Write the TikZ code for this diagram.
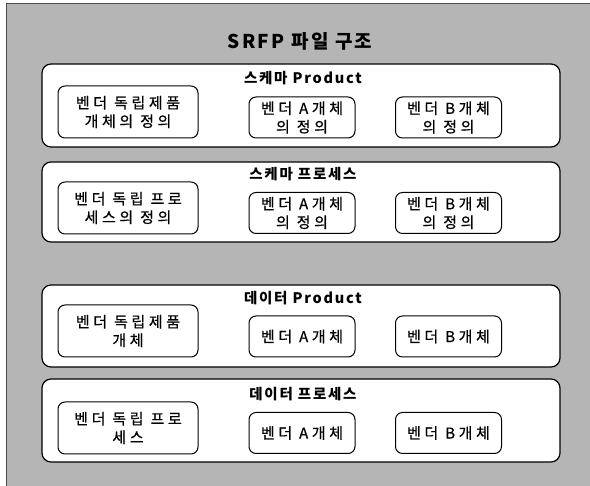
\documentclass[tikz,border=0pt]{standalone}
\usepackage{fontspec}
\setmainfont{Noto Sans CJK KR}
\begin{document}
\begin{tikzpicture}[x=1pt,y=-1pt,
  panel/.style={draw, line width=1.2pt, fill=white, rounded corners=9pt, inner sep=0pt, minimum width=518pt},
  item/.style={draw, line width=1pt, fill=white, rounded corners=7pt, align=center, inner sep=0pt,
    font=\fontsize{15}{18.5}\selectfont\addfontfeatures{LetterSpace=24,FakeBold=0.6}},
  wide/.style={item, minimum width=140pt, minimum height=52pt},
  narrow/.style={item, minimum width=106pt, minimum height=41pt},
  head/.style={font=\fontsize{14.5}{16}\selectfont\bfseries\addfontfeatures{LetterSpace=12}, inner sep=0pt},
  ttl/.style={font=\fontsize{19}{21}\selectfont\bfseries\addfontfeatures{LetterSpace=12}, inner sep=0pt}]
\useasboundingbox (0,0) rectangle (590,486);
\fill[white] (0,0) rectangle (590,486);
\fill[gray!58] (6,3) rectangle (590,486);
\draw[line width=0.8pt, black!70] (6,486) -- (6,3) -- (590,3);
\node[ttl] (title) at (300,41) {SRFP 파일 구조};
% panel 1
\node[panel, minimum height=83pt] (p1) at (301,105.5) {};
\node[head] (h1) at (303,78) {스케마 Product};
\node[wide] (a1) at (128,112) {벤더 독립제품\\개체의 정의};
\node[narrow] (b1) at (302,117.5) {벤더 A개체\\의 정의};
\node[narrow] (c1) at (448.5,117.5) {벤더 B개체\\의 정의};
% panel 2
\node[panel, minimum height=80pt] (p2) at (301,202) {};
\node[head] (h2) at (303,174) {스케마 프로세스};
\node[wide] (a2) at (128,208) {벤더 독립 프로\\세스의 정의};
\node[narrow] (b2) at (302,213) {벤더 A개체\\의 정의};
\node[narrow] (c2) at (448.5,213) {벤더 B개체\\의 정의};
% panel 3
\node[panel, minimum height=82pt] (p3) at (301,326) {};
\node[head] (h3) at (303,298) {데이터 Product};
\node[wide] (a3) at (128,331) {벤더 독립제품\\개체};
\node[narrow] (b3) at (302,336.5) {벤더 A개체};
\node[narrow] (c3) at (448.5,336.5) {벤더 B개체};
% panel 4
\node[panel, minimum height=83pt] (p4) at (301,420.5) {};
\node[head] (h4) at (303,394) {데이터 프로세스};
\node[wide] (a4) at (128,428) {벤더 독립 프로\\세스};
\node[narrow] (b4) at (302,433) {벤더 A개체};
\node[narrow] (c4) at (448.5,433) {벤더 B개체};
\end{tikzpicture}
\end{document}
